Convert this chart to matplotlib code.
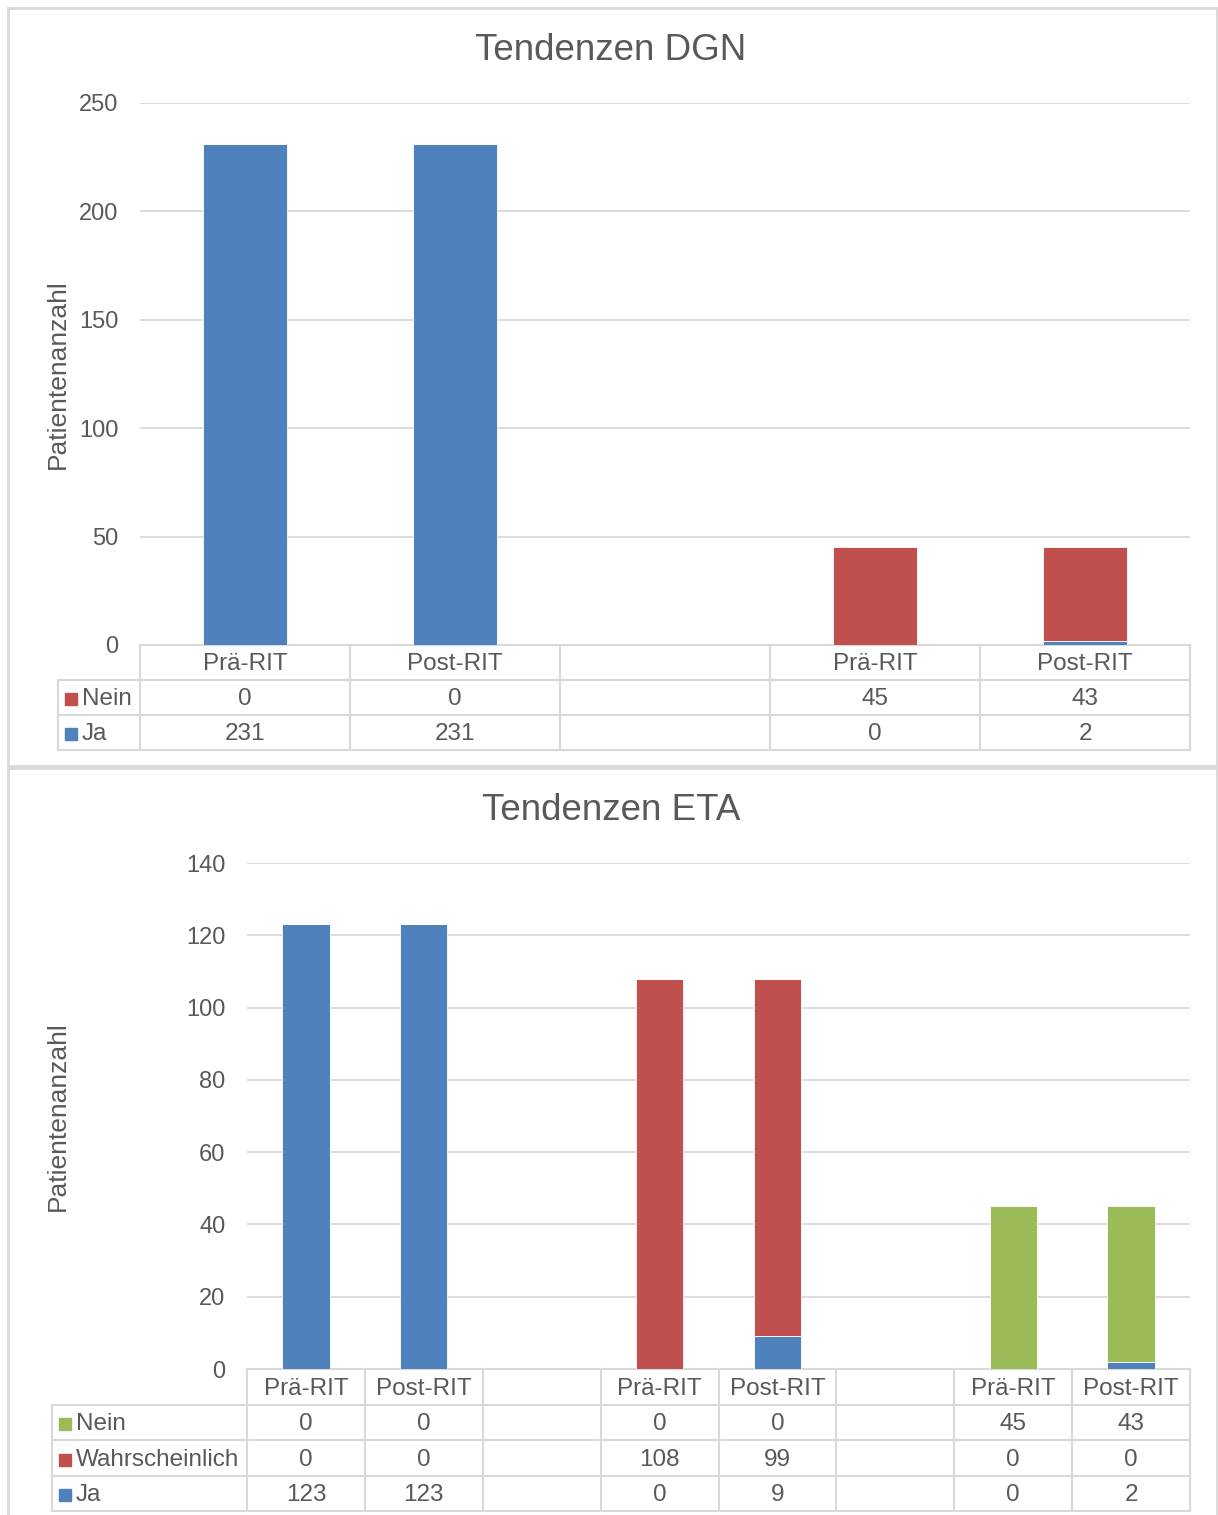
import numpy as np
import matplotlib.pyplot as plt
from matplotlib import transforms
from matplotlib.patches import Rectangle

plt.rcParams['font.family'] = ['Liberation Sans', 'DejaVu Sans']

# --- Daten ---
dgn_cats = ['Prä-RIT', 'Post-RIT', '', 'Prä-RIT', 'Post-RIT']
dgn_ja = [231, 231, None, 0, 2]
dgn_nein = [0, 0, None, 45, 43]

eta_cats = ['Prä-RIT', 'Post-RIT', '', 'Prä-RIT', 'Post-RIT', '', 'Prä-RIT', 'Post-RIT']
eta_ja = [123, 123, None, 0, 9, None, 0, 2]
eta_wahr = [0, 0, None, 108, 99, None, 0, 0]
eta_nein = [0, 0, None, 0, 0, None, 45, 43]

blue = '#4F81BD'
red = '#C0504D'
green = '#9BBB59'
txt = '#595959'
grid = '#D9D9D9'
fs = 17.5

W, H = 1218, 1515
fig = plt.figure(figsize=(W / 100, H / 100), dpi=100)


def px_axes(left, top, right, bottom):
    return fig.add_axes([left / W, 1 - bottom / H, (right - left) / W, (bottom - top) / H])


def chart(ax, cats, series, ymax, ystep, leg_left, row_h):
    n = len(cats)
    x = np.arange(n)
    base = np.zeros(n)
    for name, vals, col in series:
        v = np.array([np.nan if a is None else a for a in vals], dtype=float)
        ax.bar(x, np.nan_to_num(v), 0.4, bottom=base, color=col, edgecolor='white',
               linewidth=0.6, zorder=3)
        base += np.nan_to_num(v)
    ax.set_xlim(-0.5, n - 0.5)
    ax.set_ylim(0, ymax)
    ax.set_yticks(np.arange(0, ymax + 1, ystep))
    ax.set_xticks([])
    ax.yaxis.grid(True, color=grid, lw=1.3, zorder=0)
    for s in ax.spines.values():
        s.set_visible(False)
    ax.tick_params(axis='y', length=0, pad=15.5, labelsize=17, labelcolor=txt)
    ax.set_ylabel('Patientenanzahl', fontsize=19, color=txt)

    # Datentabelle unter der Achse
    bb = ax.get_position()
    ax_w = bb.width * W
    ax_h = bb.height * H
    rh = row_h / ax_h
    dy = 2 / ax_h  # Text etwas tiefer setzen
    lf = leg_left / ax_w  # negative Verschiebung in Achsenbruchteilen
    tr = transforms.blended_transform_factory(ax.transData, ax.transAxes)
    nrows = len(series)
    kw = dict(color=grid, lw=1.5, clip_on=False, zorder=1)
    # horizontale Linien
    ax.plot([-0.5, n - 0.5], [0, 0], transform=tr, **kw)
    for r in range(1, nrows + 2):
        ax.plot([lf, 1], [-r * rh, -r * rh], transform=ax.transAxes, **kw)
    # vertikale Linien
    for b in np.arange(-0.5, n, 1.0):
        ax.plot([b, b], [0, -(nrows + 1) * rh], transform=tr, **kw)
    ax.plot([lf, lf], [-rh, -(nrows + 1) * rh], transform=ax.transAxes, **kw)
    # Kopfzeile
    for i, c in enumerate(cats):
        ax.text(i, -0.5 * rh - dy, c, transform=tr, ha='center', va='center', fontsize=fs, color=txt)
    # Datenzeilen (oberste Reihe = letzte Serie)
    for r, (name, vals, col) in enumerate(reversed(series)):
        yc = -(r + 1.5) * rh - dy
        for i, v in enumerate(vals):
            if v is not None:
                ax.text(i, yc, str(v), transform=tr, ha='center', va='center', fontsize=fs, color=txt)
        ax.add_patch(Rectangle((lf + 7 / ax_w, yc - 6 / ax_h), 12 / ax_w, 12 / ax_h,
                               transform=ax.transAxes, color=col, clip_on=False))
        ax.text(lf + 24 / ax_w, yc, name, transform=ax.transAxes, ha='left', va='center',
                fontsize=fs, color=txt)


# Rahmen der beiden Diagramme
fig.patches.append(Rectangle((8 / W, 1 - 766 / H), 1209 / W, 758 / H, transform=fig.transFigure,
                             fill=False, edgecolor=grid, lw=2))
fig.patches.append(Rectangle((8 / W, -0.01), 1209 / W, 1 - 768 / H + 0.01, transform=fig.transFigure,
                             fill=False, edgecolor=grid, lw=2))

ax1 = px_axes(140, 103, 1190, 645)
chart(ax1, dgn_cats, [('Ja', dgn_ja, blue), ('Nein', dgn_nein, red)], 250, 50, 58 - 140, 35)
ax1.yaxis.set_label_coords(-0.0667, 0.5)
fig.text(611 / W, 1 - 51 / H, 'Tendenzen DGN', ha='center', va='center', fontsize=26.5, color=txt)

ax2 = px_axes(247, 863, 1190, 1369)
chart(ax2, eta_cats, [('Ja', eta_ja, blue), ('Wahrscheinlich', eta_wahr, red), ('Nein', eta_nein, green)],
      140, 20, 52 - 247, 35.5)
ax2.yaxis.set_label_coords(-0.1877, 0.5)
fig.text(611 / W, 1 - 811 / H, 'Tendenzen ETA', ha='center', va='center', fontsize=26.5, color=txt)

fig.savefig('out.png', dpi=100)
